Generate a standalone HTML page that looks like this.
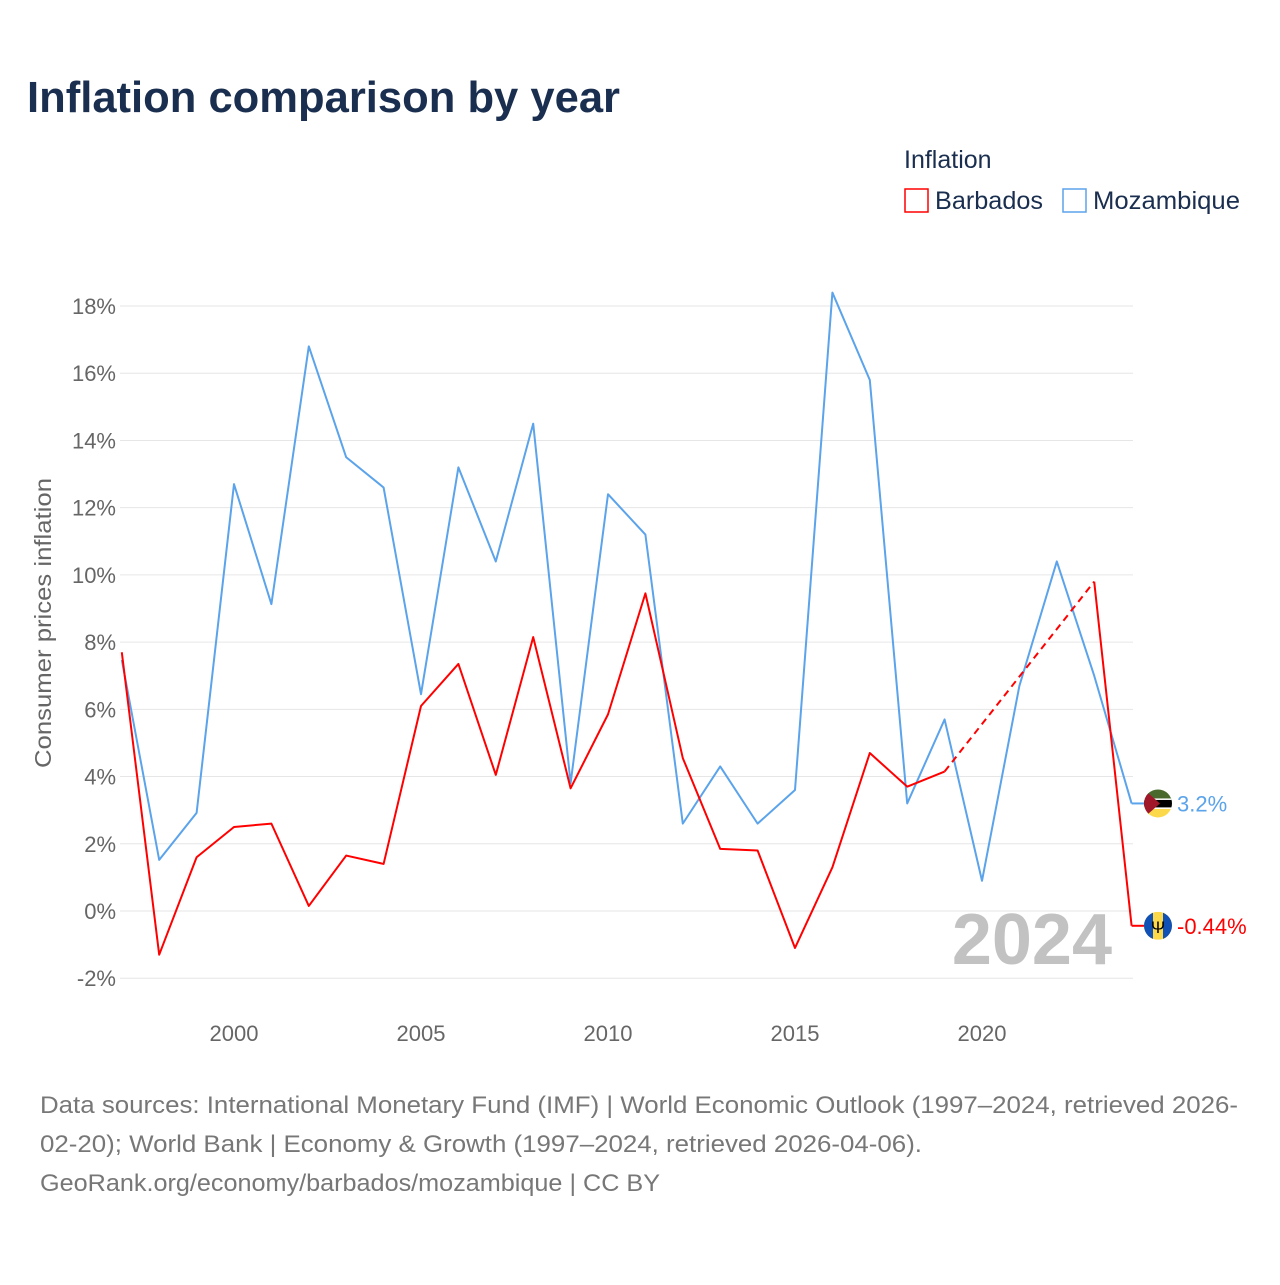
<!DOCTYPE html>
<html><head><meta charset="utf-8"><style>
body{margin:0;background:#fff;font-family:"Liberation Sans",sans-serif;}
</style></head><body>
<svg width="1280" height="1280" viewBox="0 0 1280 1280" xmlns="http://www.w3.org/2000/svg">
<rect width="1280" height="1280" fill="#fff"/>
<text x="27" y="112" font-size="44" font-weight="bold" fill="#1a2e4f" textLength="593" lengthAdjust="spacingAndGlyphs">Inflation comparison by year</text>
<text x="904" y="168" font-size="25" fill="#1a2e4f">Inflation</text>
<g><rect x="905" y="189" width="23" height="23" fill="none" stroke="#ff0000" stroke-width="1.5"/><text x="935" y="209" font-size="25" fill="#1a2e4f" textLength="108" lengthAdjust="spacingAndGlyphs">Barbados</text></g>
<g><rect x="1063" y="189" width="23" height="23" fill="none" stroke="#5ba3ea" stroke-width="1.5"/><text x="1093" y="209" font-size="25" fill="#1a2e4f" textLength="147" lengthAdjust="spacingAndGlyphs">Mozambique</text></g>
<text transform="translate(51,623) rotate(-90)" text-anchor="middle" font-size="23" fill="#666" textLength="290" lengthAdjust="spacingAndGlyphs">Consumer prices inflation</text>
<g id="grid"></g><g id="series"></g>
<text x="1112" y="964" text-anchor="end" font-size="72" font-weight="bold" fill="#c2c2c2">2024</text>
<text x="40" y="1113" font-size="24" fill="#777" textLength="1198" lengthAdjust="spacingAndGlyphs">Data sources: International Monetary Fund (IMF) | World Economic Outlook (1997–2024, retrieved 2026-</text>
<text x="40" y="1152" font-size="24" fill="#777" textLength="882" lengthAdjust="spacingAndGlyphs">02-20); World Bank | Economy &amp; Growth (1997–2024, retrieved 2026-04-06).</text>
<text x="40" y="1191" font-size="24" fill="#777" textLength="620" lengthAdjust="spacingAndGlyphs">GeoRank.org/economy/barbados/mozambique | CC BY</text>
</svg>
<script>
const years=[1997,1998,1999,2000,2001,2002,2003,2004,2005,2006,2007,2008,2009,2010,2011,2012,2013,2014,2015,2016,2017,2018,2019,2020,2021,2022,2023,2024];
const mozambique=[7.47,1.52,2.92,12.7,9.13,16.8,13.5,12.6,6.45,13.2,10.4,14.5,3.8,12.4,11.2,2.6,4.3,2.6,3.6,18.4,15.8,3.2,5.7,0.9,6.7,10.4,7.0,3.2];
const barbados=[7.7,-1.3,1.6,2.5,2.6,0.15,1.65,1.4,6.1,7.35,4.05,8.15,3.65,5.85,9.45,4.55,1.85,1.8,-1.1,1.3,4.7,3.7,4.15,null,null,null,9.8,-0.44];
const yTicks=[-2,0,2,4,6,8,10,12,14,16,18];
const xTicks=[2000,2005,2010,2015,2020];
const NS="http://www.w3.org/2000/svg";
const X=y=>121.8+(y-1997)*37.4;
const Y=v=>911-v*33.61;
function mk(t,a,p){const e=document.createElementNS(NS,t);for(const k in a)e.setAttribute(k,a[k]);p.appendChild(e);return e;}
const g=document.getElementById('grid'),s=document.getElementById('series');
yTicks.forEach(v=>{
 const l=mk('line',{x1:120,x2:1133,y1:Y(v),y2:Y(v),stroke:'#e6e6e6','stroke-width':1},g);
 
 
 const t=mk('text',{x:116,y:Y(v)+8,'text-anchor':'end','font-size':22,fill:'#666'},g);
 t.textContent=v+'%';
 
 
});
xTicks.forEach(v=>{
 const t=mk('text',{x:X(v),y:1041,'text-anchor':'middle','font-size':22,fill:'#666'},g);
 t.textContent=v;
 
 
});
function line(vals,color,name){
 let d='',pen=false,last=null,dash='';
 vals.forEach((v,i)=>{
  if(v==null){pen=false;return;}
  if(!pen&&last){dash+='M'+X(years[last])+','+Y(vals[last])+'L'+X(years[i])+','+Y(v);}
  d+=(pen?'L':'M')+X(years[i])+','+Y(v);pen=true;last=i;
 });
 const p=mk('path',{d:d,fill:'none',stroke:color,'stroke-width':2,'stroke-linejoin':'round'},s);
 
 
 if(dash){const q=mk('path',{d:dash,fill:'none',stroke:color,'stroke-width':2,'stroke-dasharray':'7,5'},s);
  
  }
 const lv=vals[vals.length-1];
 mk('line',{x1:X(2024),x2:1146,y1:Y(lv),y2:Y(lv),stroke:color,'stroke-width':2},s);
 return lv;
}
const mv=line(mozambique,'#5ba3ea','mozambique');
const bv=line(barbados,'#ff0000','barbados');
function flag(v,kind,color,label,name){
 const cy=Y(v),cx=1158;
 const gg=mk('g',{},s);
 
 
 const id='c'+kind;
 const cp=mk('clipPath',{id:id},gg);mk('circle',{cx:cx,cy:cy,r:14},cp);
 const h=mk('g',{'clip-path':'url(#'+id+')'},gg);
 if(kind=='moz'){
  mk('rect',{x:cx-14,y:cy-14,width:28,height:10,fill:'#4a6a2d'},h);
  mk('rect',{x:cx-14,y:cy-4,width:28,height:8,fill:'#000'},h);
  mk('rect',{x:cx-14,y:cy-5,width:28,height:1.5,fill:'#fff'},h);
  mk('rect',{x:cx-14,y:cy+4,width:28,height:1.5,fill:'#fff'},h);
  mk('rect',{x:cx-14,y:cy+5.5,width:28,height:9,fill:'#fcd94a'},h);
  mk('polygon',{points:(cx-14)+','+(cy-14)+' '+(cx+2)+','+cy+' '+(cx-14)+','+(cy+14),fill:'#a0172a'},h);
 }else{
  mk('rect',{x:cx-14,y:cy-14,width:28,height:28,fill:'#fcd94a'},h);
  mk('rect',{x:cx-14,y:cy-14,width:9,height:28,fill:'#1150b4'},h);
  mk('rect',{x:cx+5,y:cy-14,width:9,height:28,fill:'#1150b4'},h);
  const t=mk('text',{x:cx,y:cy+7,'text-anchor':'middle','font-size':17,fill:'#000'},h);t.textContent='Ψ';
 }
 const t=mk('text',{x:1177,y:cy+8,'font-size':22,fill:color},s);
 t.textContent=label;
 
 
}
flag(mv,'moz','#5ba3ea','3.2%','mozambique');
flag(bv,'bar','#ff0000','-0.44%','barbados');
</script>
</body></html>
